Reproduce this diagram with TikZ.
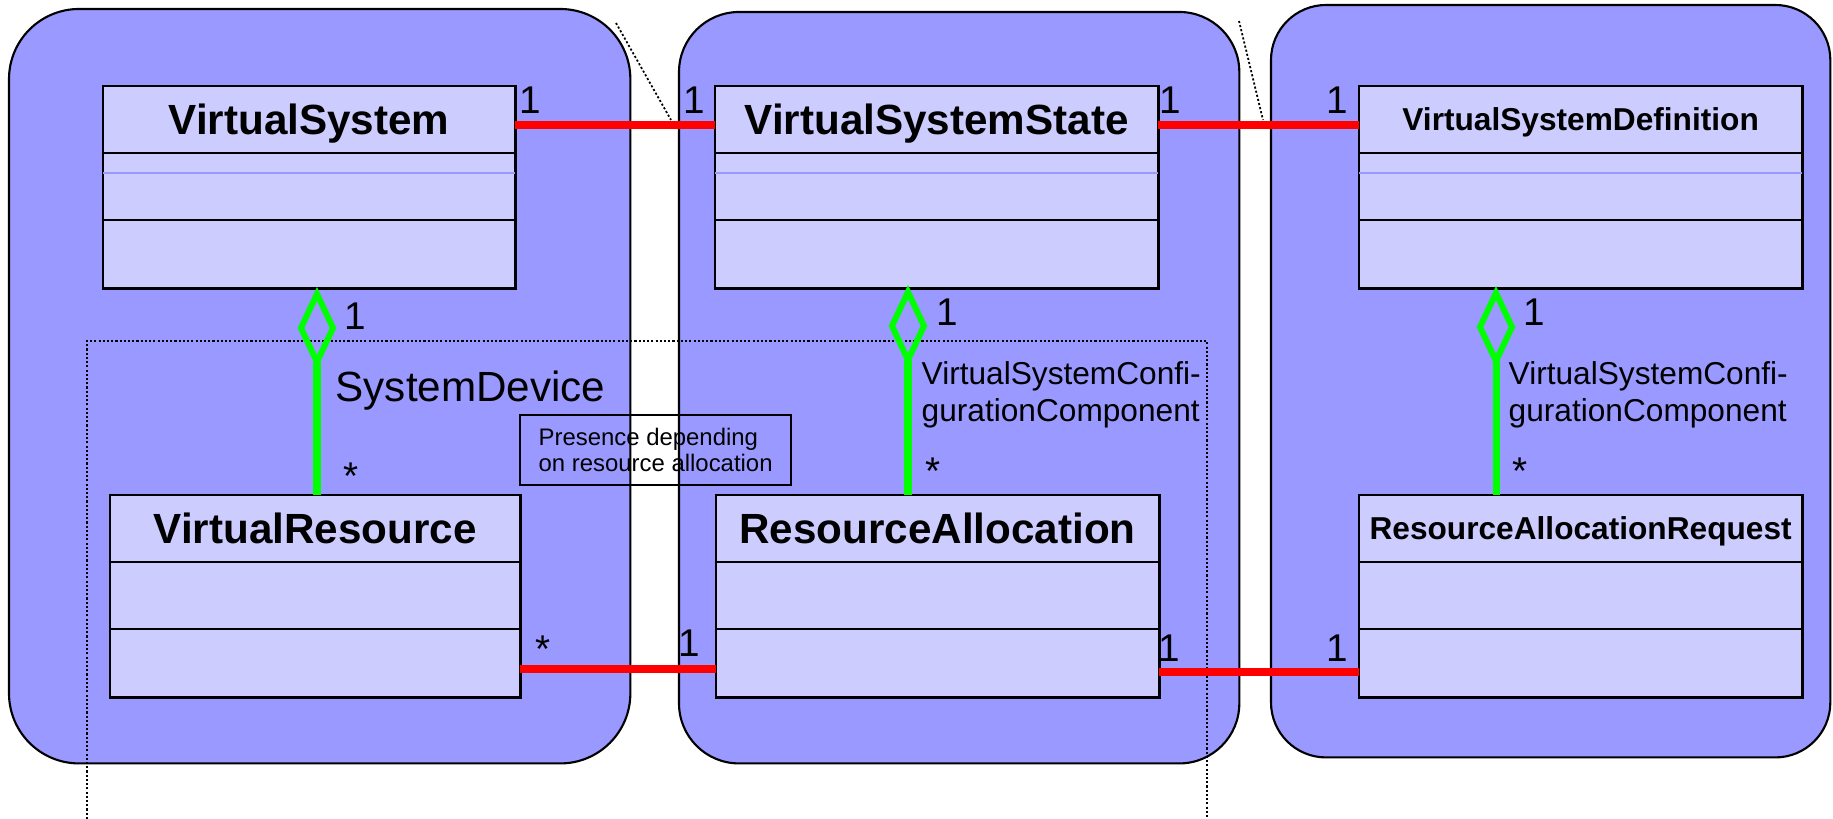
\documentclass[tikz,border=0pt]{standalone}
\usepackage{fontspec}
\setmainfont{Liberation Sans}
\usetikzlibrary{shapes.geometric}
\definecolor{panelblue}{HTML}{9999FF}
\definecolor{classblue}{HTML}{CCCCFF}
\definecolor{assocred}{HTML}{FF0000}
\definecolor{agggreen}{HTML}{00FF00}

\newcommand{\umlclass}[6]{%
  \node[comp, #5, minimum width=#4, anchor=north west] (#1t) at (#2,#3) {#6};
  \node[comp, minimum width=#4, anchor=north] (#1a) at (#1t.south) {};
  \node[comp, minimum width=#4, minimum height=0.68cm, anchor=north] (#1o) at (#1a.south) {};
}

\tikzset{
  panel/.style={draw=black, line width=0.6pt, fill=panelblue, inner sep=0, outer sep=0, anchor=north west},
  comp/.style={draw=black, line width=0.8pt, fill=classblue, inner sep=0, outer sep=0, minimum height=0.67cm},
  bigtitle/.style={font=\bfseries\fontsize{12pt}{14pt}\selectfont, text height=8.6pt, text depth=0pt},
  smalltitle/.style={font=\bfseries\fontsize{9pt}{11pt}\selectfont, text height=6.45pt, text depth=0pt},
  faint/.style={draw=panelblue, line width=0.4pt},
  assoc/.style={draw=assocred, line width=2.3pt},
  aggdia/.style={diamond, draw=agggreen, line width=1.7pt, minimum width=0.32cm, minimum height=0.68cm, inner sep=0, outer sep=0},
  aggline/.style={draw=agggreen, line width=2pt},
  dotline/.style={draw=black, line width=0.5pt, dash pattern=on 0.6pt off 0.6pt},
  mult/.style={font=\fontsize{11pt}{13pt}\selectfont, inner sep=0, anchor=base west},
  rolelbl/.style={font=\fontsize{9pt}{11pt}\selectfont, inner sep=0, anchor=base west},
  bigrole/.style={font=\fontsize{12pt}{14pt}\selectfont, inner sep=0, anchor=base west},
  notebox/.style={draw=black, line width=0.6pt, inner sep=0, align=left, anchor=north west, font=\fontsize{6.8pt}{7.2pt}\selectfont}
}

\begin{document}
\begin{tikzpicture}[x=0.01cm, y=-0.01cm]
\useasboundingbox (0,0) rectangle (1833,819);

% panels
\node[panel, minimum width=6.21cm, minimum height=7.54cm, rounded corners=0.7cm] (p1) at (9,9) {};
\node[panel, minimum width=5.60cm, minimum height=7.51cm, rounded corners=0.6cm] (p2) at (679,12) {};
\node[panel, minimum width=5.59cm, minimum height=7.52cm, rounded corners=0.55cm] (p3) at (1271,5) {};

% dotted lines
\coordinate (fbl) at (87,819);
\coordinate (ftl) at (87,341);
\coordinate (ftr) at (1207,341);
\coordinate (fbr) at (1207,819);
\draw[dotline] (fbl) -- (ftl) -- (ftr) -- (fbr);
\coordinate (g1a) at (616,23);
\coordinate (g1b) at (671,120);
\coordinate (g2a) at (1239,21);
\coordinate (g2b) at (1263,120);
\draw[dotline] (g1a) -- (g1b);
\draw[dotline] (g2a) -- (g2b);

% classes
\umlclass{vs}{103}{86}{4.12cm}{bigtitle}{VirtualSystem}
\umlclass{vss}{715}{86}{4.43cm}{bigtitle}{VirtualSystemState}
\umlclass{vsd}{1359}{86}{4.43cm}{smalltitle}{VirtualSystemDefinition}
\umlclass{vr}{110}{495}{4.10cm}{bigtitle}{VirtualResource}
\umlclass{ra}{716}{495}{4.43cm}{bigtitle}{ResourceAllocation}
\umlclass{rar}{1359}{495}{4.43cm}{smalltitle}{ResourceAllocationRequest}

\foreach \c in {vs,vss,vsd}{
  \draw[faint] ([yshift=-0.2cm]\c a.north west) -- ([yshift=-0.2cm]\c a.north east);
}

% note
\node[notebox, minimum width=2.71cm, minimum height=0.70cm] (note) at (519,414) {Presence depending\\on resource allocation};

% associations
\draw[assoc] ([yshift=-0.055cm]vst.east) -- ([yshift=-0.055cm]vsst.west);
\draw[assoc] ([yshift=-0.055cm]vsst.east) -- ([yshift=-0.055cm]vsdt.west);
\draw[assoc] ([yshift=-0.06cm]vro.east) -- ([yshift=-0.06cm]rao.west);
\draw[assoc] ([yshift=-0.09cm]rao.east) -- ([yshift=-0.09cm]raro.west);

% aggregations
\node[aggdia] (dvs) at (317,328) {};
\node[aggdia] (dvss) at (908,326) {};
\node[aggdia] (dvsd) at (1496,327) {};
\draw[aggline] (dvs.south) -- (dvs.south |- vrt.north);
\draw[aggline] (dvss.south) -- (dvss.south |- rat.north);
\draw[aggline] (dvsd.south) -- (dvsd.south |- rart.north);

% multiplicities
\node[mult] (m1) at (519,114) {1};
\node[mult] (m2) at (683,114) {1};
\node[mult] (m3) at (1159,114) {1};
\node[mult] (m4) at (1326,114) {1};
\node[mult] (m5) at (344,330) {1};
\node[mult] (m6) at (936,326) {1};
\node[mult] (m7) at (1523,326) {1};
\node[mult] (m8) at (343,490) {*};
\node[mult] (m9) at (925,485) {*};
\node[mult] (m10) at (1512,485) {*};
\node[mult] (m11) at (535,663) {*};
\node[mult] (m12) at (678,657) {1};
\node[mult] (m13) at (1158,662) {1};
\node[mult] (m14) at (1326,662) {1};

% role names
\node[bigrole] (rsd) at (335,402) {SystemDevice};
\node[rolelbl] (rc1a) at (921,385) {VirtualSystemConfi-};
\node[rolelbl] (rc1b) at (921,422) {gurationComponent};
\node[rolelbl] (rc2a) at (1508,385) {VirtualSystemConfi-};
\node[rolelbl] (rc2b) at (1508,422) {gurationComponent};
\end{tikzpicture}
\end{document}
